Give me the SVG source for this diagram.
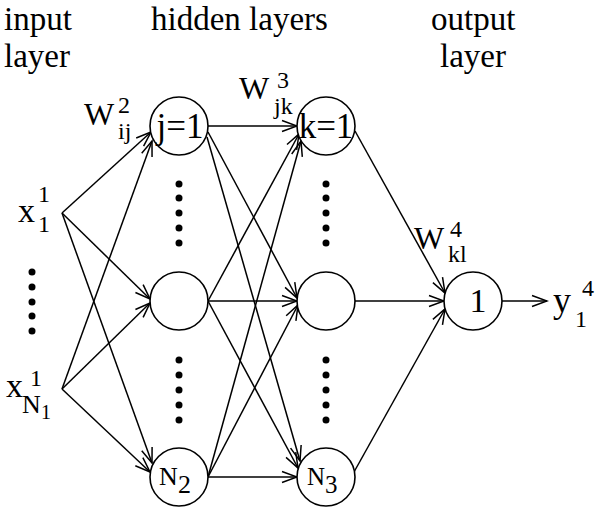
<svg xmlns="http://www.w3.org/2000/svg" width="600" height="510" viewBox="0 0 600 510" font-family="'Liberation Serif', 'Times New Roman', 'DejaVu Serif', serif">
<style>
text{font-family:'Liberation Serif','Times New Roman','DejaVu Serif',serif;fill:#000}
.node{fill:#fff;stroke:#000;stroke-width:1.6}
.edge{stroke:#000;stroke-width:1.5;fill:none;marker-end:url(#ah)}
.dot{fill:#000}
.t{font-size:35px}
.h{font-size:33px}
</style>
<defs>
<marker id="ah" markerUnits="userSpaceOnUse" markerWidth="18" markerHeight="14" viewBox="0 0 18 14" refX="16" refY="7" orient="auto">
<path d="M1,1.5 L16,7 L1,12.5" fill="none" stroke="#000" stroke-width="1.5"/>
</marker>
</defs>
<rect width="600" height="510" fill="#fff"/>
<g id="headings">
<text class="h" x="4" y="30">input</text>
<text class="h" x="4" y="67">layer</text>
<text class="h" x="151" y="30">hidden layers</text>
<text class="h" x="431" y="30">output</text>
<text class="h" x="440" y="67">layer</text>
</g>
<g id="connectors">
<line class="edge" x1="62" y1="213" x2="151" y2="132"/>
<line class="edge" x1="62" y1="389" x2="152" y2="141"/>
<line class="edge" x1="62" y1="213" x2="150" y2="299"/>
<line class="edge" x1="62" y1="389" x2="150" y2="303"/>
<line class="edge" x1="62" y1="213" x2="152" y2="463"/>
<line class="edge" x1="62" y1="389" x2="150" y2="472"/>
<line class="edge" x1="208" y1="126" x2="297" y2="126"/>
<line class="edge" x1="208" y1="132" x2="297" y2="298"/>
<line class="edge" x1="207" y1="137" x2="300" y2="461"/>
<line class="edge" x1="208" y1="301" x2="299" y2="134"/>
<line class="edge" x1="208" y1="301" x2="297" y2="301"/>
<line class="edge" x1="208" y1="301" x2="298" y2="468"/>
<line class="edge" x1="208" y1="477" x2="301" y2="141"/>
<line class="edge" x1="208" y1="477" x2="298" y2="305"/>
<line class="edge" x1="208" y1="477" x2="297" y2="477"/>
<line class="edge" x1="355" y1="131" x2="445" y2="293"/>
<line class="edge" x1="355" y1="301" x2="444" y2="301"/>
<line class="edge" x1="354" y1="472" x2="445" y2="309"/>
<line class="edge" x1="502" y1="301" x2="547" y2="301"/>
</g>
<g id="dots">
<circle class="dot" cx="32" cy="272" r="3.5"/><circle class="dot" cx="32" cy="287" r="3.5"/><circle class="dot" cx="32" cy="302" r="3.5"/><circle class="dot" cx="32" cy="316" r="3.5"/><circle class="dot" cx="32" cy="331" r="3.5"/>
<circle class="dot" cx="179" cy="184" r="3.5"/><circle class="dot" cx="179" cy="198" r="3.5"/><circle class="dot" cx="179" cy="213" r="3.5"/><circle class="dot" cx="179" cy="228" r="3.5"/><circle class="dot" cx="179" cy="243" r="3.5"/>
<circle class="dot" cx="179" cy="360" r="3.5"/><circle class="dot" cx="179" cy="375" r="3.5"/><circle class="dot" cx="179" cy="390" r="3.5"/><circle class="dot" cx="179" cy="405" r="3.5"/><circle class="dot" cx="179" cy="420" r="3.5"/>
<circle class="dot" cx="326" cy="184" r="3.5"/><circle class="dot" cx="326" cy="198" r="3.5"/><circle class="dot" cx="326" cy="213" r="3.5"/><circle class="dot" cx="326" cy="228" r="3.5"/><circle class="dot" cx="326" cy="243" r="3.5"/>
<circle class="dot" cx="326" cy="360" r="3.5"/><circle class="dot" cx="326" cy="375" r="3.5"/><circle class="dot" cx="326" cy="390" r="3.5"/><circle class="dot" cx="326" cy="405" r="3.5"/><circle class="dot" cx="326" cy="420" r="3.5"/>
</g>
<g id="input1">
<text x="18" y="222" font-size="34">x</text>
<text x="38" y="202" font-size="24">1</text>
<text x="38" y="232" font-size="24">1</text>
</g>
<g id="inputN">
<text x="6" y="397" font-size="34">x</text>
<text x="30" y="386" font-size="24">1</text>
<text x="22" y="413" font-size="26">N</text>
<text x="41" y="419" font-size="20">1</text>
</g>
<g id="h1_j1">
<circle class="node" cx="179" cy="126" r="29"/>
<text class="t" x="180" y="138" text-anchor="middle">j=1</text>
</g>
<g id="h1_mid">
<circle class="node" cx="179" cy="301" r="29"/>
</g>
<g id="h1_N2">
<circle class="node" cx="179" cy="477" r="29"/>
<text x="159" y="485" font-size="26">N</text>
<text x="178" y="493" font-size="26">2</text>
</g>
<g id="h2_k1">
<circle class="node" cx="326" cy="126" r="29"/>
<text class="t" x="326" y="138" text-anchor="middle">k=1</text>
</g>
<g id="h2_mid">
<circle class="node" cx="326" cy="301" r="29"/>
</g>
<g id="h2_N3">
<circle class="node" cx="326" cy="477" r="29"/>
<text x="307" y="485" font-size="25">N</text>
<text x="325" y="493" font-size="25">3</text>
</g>
<g id="out1">
<circle class="node" cx="473" cy="301" r="29"/>
<text x="478" y="312" font-size="34" text-anchor="middle">1</text>
</g>
<g id="weights">
<text x="84" y="125" font-size="32">W</text>
<text x="118" y="113" font-size="24">2</text>
<text x="118" y="139" font-size="24">ij</text>
<text x="239" y="99" font-size="32">W</text>
<text x="277" y="88" font-size="24">3</text>
<text x="274" y="114" font-size="24">jk</text>
<text x="414" y="249" font-size="32">W</text>
<text x="450" y="237" font-size="24">4</text>
<text x="448" y="262" font-size="24">kl</text>
</g>
<g id="output_y">
<text x="553" y="312" font-size="36">y</text>
<text x="575" y="327" font-size="24">1</text>
<text x="582" y="296" font-size="24">4</text>
</g>
</svg>
